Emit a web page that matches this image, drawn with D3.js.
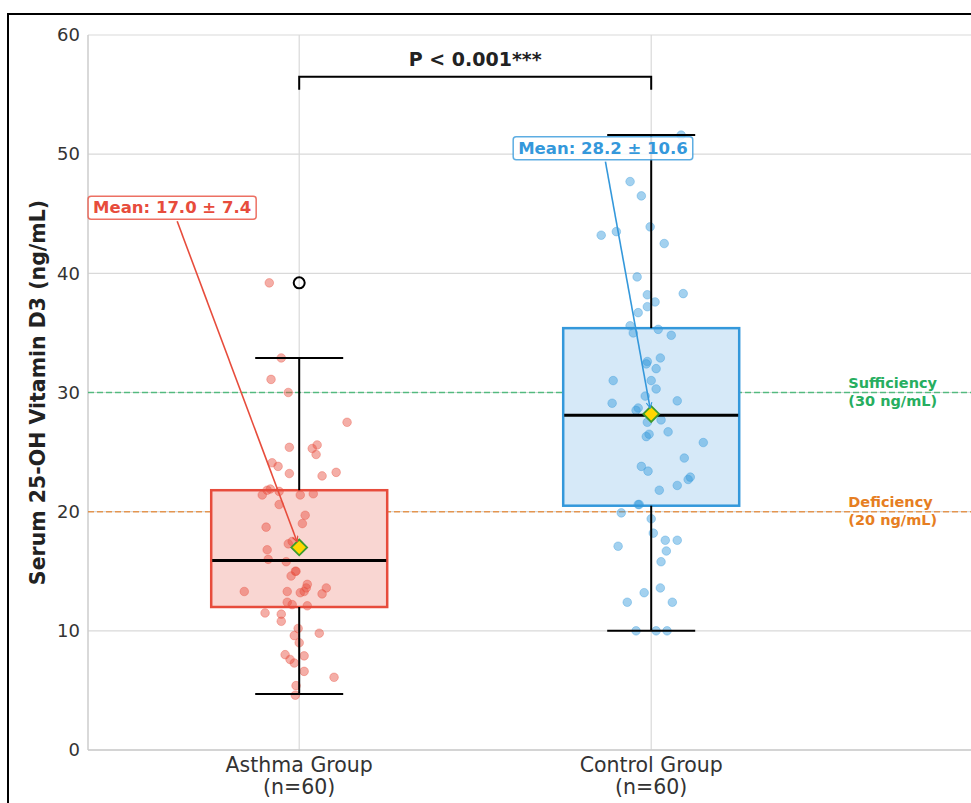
<!DOCTYPE html>
<html>
<head>
<meta charset="utf-8">
<script src="https://cdn.jsdelivr.net/npm/d3@7"></script>
<style>
  body { margin: 0; background: #fff; }
  svg { display: block; font-family: "DejaVu Sans", sans-serif; }
</style>
</head>
<body>
<div id="chart"></div>
<script>

// groups and box statistics
const groups = ["Asthma Group", "Control Group"];
const groupN = [60, 60];
const boxQ1 = [12.0, 20.5];
const boxMedian = [15.9, 28.1];
const boxQ3 = [21.8, 35.4];
const whiskerLow = [4.7, 10.0];
const whiskerHigh = [32.9, 51.6];
const outliers = [[39.2], []];
const means = [17.0, 28.2];
const sds = [7.4, 10.6];

// jittered observations (value, horizontal jitter in category units)
const asthmaValues = [39.2,32.9,31.1,30.0,27.5,25.4,25.3,25.6,24.8,24.1,23.8,23.2,23.0,23.3,21.4,21.8,21.9,21.7,21.4,21.5,
  20.6,19.7,19.0,18.7,17.3,17.5,17.0,16.8,16.0,15.8,15.0,15.0,14.6,13.9,13.6,13.6,13.3,13.2,13.3,13.3,
  13.1,12.4,12.2,12.1,11.5,11.4,10.8,10.2,9.8,9.6,9.0,8.0,7.9,7.6,7.3,6.6,6.1,5.4,4.6];
const asthmaJitter = [-0.085,-0.051,-0.080,-0.031,0.136,-0.028,0.037,0.051,0.048,-0.077,-0.060,-0.028,0.065,0.105,-0.105,-0.091,-0.082,-0.057,0.003,0.040,
  -0.057,0.017,0.009,-0.094,-0.031,-0.020,0.003,-0.091,-0.088,-0.037,-0.011,-0.009,-0.023,0.023,0.020,0.077,0.014,0.003,-0.156,-0.034,
  0.065,-0.034,-0.020,0.023,-0.097,-0.051,-0.051,-0.003,0.057,-0.014,0.000,-0.040,0.014,-0.026,-0.014,0.014,0.099,-0.009,-0.011];
const controlValues = [51.6,47.7,46.5,43.9,43.2,43.5,42.5,39.7,38.3,38.2,37.6,37.2,36.7,35.6,35.0,35.3,34.8,32.6,32.4,32.9,
  32.0,31.0,31.0,30.3,29.1,29.7,29.3,28.7,28.5,27.5,27.7,26.5,26.3,26.7,25.8,24.5,23.8,23.4,22.9,22.7,
  22.2,21.8,20.6,20.6,19.9,19.4,18.2,17.6,17.6,17.1,16.7,15.8,13.6,13.2,12.4,12.4,10.0,10.0,10.0];
const controlJitter = [0.085,-0.060,-0.028,-0.003,-0.142,-0.099,0.037,-0.040,0.091,-0.011,0.011,-0.011,-0.037,-0.060,-0.051,0.020,0.057,-0.011,-0.014,0.026,
  0.014,-0.108,0.000,0.014,-0.111,-0.017,0.074,-0.037,-0.043,-0.011,0.028,-0.006,-0.014,0.048,0.148,0.094,-0.028,-0.009,0.111,0.105,
  0.074,0.023,-0.034,-0.037,-0.085,0.000,0.006,0.040,0.074,-0.094,0.043,0.028,0.026,-0.020,-0.068,0.060,-0.043,0.014,0.045];

// reference thresholds
const refValues = [30, 20];
const refNames = ["Sufficiency", "Deficiency"];
const yTicks = [0, 10, 20, 30, 40, 50, 60];
const pLabel = "P < 0.001***";

const edgeColors = ["#e74c3c", "#3498db"];
const fillColors = ["#f9d6d2", "#d6e9f8"];
const refColors = ["#27ae60", "#e67e22"];

const width = 971, height = 803;
const margin = {top: 35, left: 88, bottom: 53};

const svg = d3.select("#chart").append("svg")
  .attr("width", width)
  .attr("height", height);

const x = d3.scaleLinear()
  .domain([0.4, 3.0])
  .range([margin.left, margin.left + 2.6 * 352]);

const y = d3.scaleLinear()
  .domain([0, 60])
  .range([height - margin.bottom, margin.top]);

const plotRight = x.range()[1];

// frame around the figure
svg.append("rect")
  .attr("x", 8).attr("y", 14)
  .attr("width", 1200).attr("height", 1200)
  .attr("fill", "none")
  .attr("stroke", "#000")
  .attr("stroke-width", 2);

// grid
svg.append("g").selectAll("line.hgrid")
  .data(yTicks)
  .enter().append("line")
  .attr("class", "hgrid")
  .attr("x1", margin.left).attr("x2", plotRight)
  .attr("y1", d => y(d)).attr("y2", d => y(d))
  .attr("stroke", "#d9d9d9").attr("stroke-width", 1.2);

svg.append("g").selectAll("line.vgrid")
  .data(groups)
  .enter().append("line")
  .attr("class", "vgrid")
  .attr("x1", (d, i) => x(i + 1)).attr("x2", (d, i) => x(i + 1))
  .attr("y1", y(0)).attr("y2", y(60))
  .attr("stroke", "#d9d9d9").attr("stroke-width", 1.2);

// spines
svg.append("line")
  .attr("x1", margin.left).attr("x2", margin.left)
  .attr("y1", y(0)).attr("y2", y(60))
  .attr("stroke", "#cccccc").attr("stroke-width", 1.5);
svg.append("line")
  .attr("x1", margin.left).attr("x2", plotRight)
  .attr("y1", y(0)).attr("y2", y(0))
  .attr("stroke", "#cccccc").attr("stroke-width", 1.5);

// y axis
const yAxis = d3.axisLeft(y).tickValues(yTicks).tickSize(0).tickPadding(8);
const yAxisGroup = svg.append("g")
  .attr("transform", "translate(" + margin.left + ",0)")
  .call(yAxis);
yAxisGroup.select(".domain").remove();
yAxisGroup.selectAll("text")
  .attr("font-size", 18)
  .attr("font-family", "DejaVu Sans")
  .attr("fill", "#333");

// x axis labels
const xLabels = svg.append("g").selectAll("text.xlab")
  .data(groups)
  .enter().append("text")
  .attr("class", "xlab")
  .attr("text-anchor", "middle")
  .attr("font-size", 20.5)
  .attr("fill", "#333");
xLabels.append("tspan")
  .attr("x", (d, i) => x(i + 1))
  .attr("y", y(0) + 22)
  .text(d => d);
xLabels.append("tspan")
  .attr("x", (d, i) => x(i + 1))
  .attr("y", y(0) + 44)
  .text((d, i) => "(n=" + groupN[i] + ")");

// y axis title
svg.append("text")
  .attr("transform", "translate(45," + y(30) + ") rotate(-90)")
  .attr("text-anchor", "middle")
  .attr("font-size", 20.5)
  .attr("font-weight", "bold")
  .attr("fill", "#222")
  .text("Serum 25-OH Vitamin D3 (ng/mL)");

// reference lines
svg.append("g").selectAll("line.ref")
  .data(refValues)
  .enter().append("line")
  .attr("class", "ref")
  .attr("x1", margin.left).attr("x2", plotRight)
  .attr("y1", d => y(d)).attr("y2", d => y(d))
  .attr("stroke", (d, i) => refColors[i])
  .attr("stroke-opacity", 0.75)
  .attr("stroke-width", 1.5)
  .attr("stroke-dasharray", "6,3");

// two-line threshold labels, one text per line
const refLabels = svg.append("g");
refValues.forEach((d, i) => {
  refLabels.append("text")
    .attr("x", x(2.56))
    .attr("y", y(d) - 5)
    .attr("font-size", 14.5)
    .attr("font-weight", "bold")
    .attr("fill", refColors[i])
    .text(refNames[i]);
  refLabels.append("text")
    .attr("x", x(2.56))
    .attr("y", y(d) + 13)
    .attr("font-size", 14.5)
    .attr("font-weight", "bold")
    .attr("fill", refColors[i])
    .text("(" + d + " ng/mL)");
});

// boxes
const boxW = 0.5, capW = 0.25;
svg.append("g").selectAll("rect.box")
  .data(groups)
  .enter().append("rect")
  .attr("class", "box")
  .attr("x", (d, i) => x(i + 1 - boxW / 2))
  .attr("width", (d, i) => x(i + 1 + boxW / 2) - x(i + 1 - boxW / 2))
  .attr("y", (d, i) => y(boxQ3[i]))
  .attr("height", (d, i) => y(boxQ1[i]) - y(boxQ3[i]))
  .attr("fill", (d, i) => fillColors[i])
  .attr("stroke", (d, i) => edgeColors[i])
  .attr("stroke-width", 2.5);

// jittered points
const pointSets = [
  asthmaValues.map((v, j) => ({g: 0, v: v, j: asthmaJitter[j]})),
  controlValues.map((v, j) => ({g: 1, v: v, j: controlJitter[j]}))
];
svg.append("g").selectAll("circle.pt")
  .data(pointSets[0].concat(pointSets[1]))
  .enter().append("circle")
  .attr("class", "pt")
  .attr("cx", d => x(d.g + 1 + d.j))
  .attr("cy", d => y(d.v))
  .attr("r", 4.3)
  .attr("fill", d => edgeColors[d.g])
  .attr("fill-opacity", 0.45)
  .attr("stroke", d => edgeColors[d.g])
  .attr("stroke-opacity", 0.35)
  .attr("stroke-width", 1);

// whiskers and caps
const wg = svg.append("g").attr("stroke", "#000").attr("stroke-width", 2);
groups.forEach((g, i) => {
  wg.append("line")
    .attr("x1", x(i + 1)).attr("x2", x(i + 1))
    .attr("y1", y(boxQ3[i])).attr("y2", y(whiskerHigh[i]));
  wg.append("line")
    .attr("x1", x(i + 1)).attr("x2", x(i + 1))
    .attr("y1", y(boxQ1[i])).attr("y2", y(whiskerLow[i]));
  [whiskerLow[i], whiskerHigh[i]].forEach(w => {
    wg.append("line")
      .attr("x1", x(i + 1 - capW / 2)).attr("x2", x(i + 1 + capW / 2))
      .attr("y1", y(w)).attr("y2", y(w));
  });
  wg.append("line")
    .attr("x1", x(i + 1 - boxW / 2) + 1).attr("x2", x(i + 1 + boxW / 2) - 1)
    .attr("y1", y(boxMedian[i])).attr("y2", y(boxMedian[i]))
    .attr("stroke-width", 3);
  outliers[i].forEach(o => {
    svg.append("circle")
      .attr("cx", x(i + 1)).attr("cy", y(o))
      .attr("r", 5.5)
      .attr("fill", "none")
      .attr("stroke", "#000")
      .attr("stroke-width", 2);
  });
});

// mean diamonds
svg.append("g").selectAll("path.mean")
  .data(means)
  .enter().append("path")
  .attr("class", "mean")
  .attr("transform", (d, i) => "translate(" + x(i + 1) + "," + y(d) + ")")
  .attr("d", d3.symbol().type(d3.symbolDiamond2).size(160))
  .attr("fill", "#ffd700")
  .attr("stroke", "#3c9a2e")
  .attr("stroke-width", 1.8);

// mean annotations
const defs = svg.append("defs");
edgeColors.forEach((c, i) => {
  defs.append("marker")
    .attr("id", "arrow" + i)
    .attr("viewBox", "0 0 10 10")
    .attr("refX", 9).attr("refY", 5)
    .attr("markerWidth", 7).attr("markerHeight", 7)
    .attr("markerUnits", "userSpaceOnUse")
    .attr("orient", "auto")
    .append("path")
    .attr("d", "M1,1 L9,5 L1,9")
    .attr("fill", "none")
    .attr("stroke", c)
    .attr("stroke-width", 1.6);
});

const notePos = [[0.639, 45.5], [1.863, 50.5]];
groups.forEach((g, i) => {
  const tx = x(notePos[i][0]), ty = y(notePos[i][1]);
  const note = svg.append("g");
  const label = note.append("text")
    .attr("x", tx).attr("y", ty)
    .attr("text-anchor", "middle")
    .attr("dominant-baseline", "central")
    .attr("font-size", 16.5)
    .attr("font-weight", "bold")
    .attr("fill", edgeColors[i])
    .text("Mean: " + means[i].toFixed(1) + " \u00b1 " + sds[i].toFixed(1));
  const tw = label.node().getComputedTextLength();
  const bw = tw + 10, bh = 23;
  note.insert("rect", "text")
    .attr("x", tx - bw / 2).attr("y", ty - bh / 2)
    .attr("width", bw).attr("height", bh)
    .attr("rx", 3)
    .attr("fill", "#fff").attr("fill-opacity", 0.85)
    .attr("stroke", edgeColors[i]).attr("stroke-opacity", 0.8)
    .attr("stroke-width", 1.5);

  // arrow from box edge to the mean marker
  const mx = x(i + 1), my = y(means[i]);
  const dx = mx - tx, dy = my - ty;
  const t0 = (bh / 2 + 2) / dy;
  const len = Math.sqrt(dx * dx + dy * dy);
  const shrink = 6 / len;
  svg.append("line")
    .attr("x1", tx + dx * t0).attr("y1", ty + dy * t0)
    .attr("x2", mx - dx * shrink).attr("y2", my - dy * shrink)
    .attr("stroke", edgeColors[i])
    .attr("stroke-width", 1.6)
    .attr("marker-end", "url(#arrow" + i + ")");
});

// significance bracket
const bracketY = 56.5, bracketDrop = 1.1;
svg.append("path")
  .attr("d", "M" + x(1) + "," + y(bracketY - bracketDrop) +
    "L" + x(1) + "," + y(bracketY) +
    "L" + x(2) + "," + y(bracketY) +
    "L" + x(2) + "," + y(bracketY - bracketDrop))
  .attr("fill", "none")
  .attr("stroke", "#000")
  .attr("stroke-width", 2);
svg.append("text")
  .attr("x", (x(1) + x(2)) / 2)
  .attr("y", y(bracketY) - 11)
  .attr("text-anchor", "middle")
  .attr("font-size", 19)
  .attr("font-weight", "bold")
  .attr("fill", "#222")
  .text(pLabel);

</script>
</body>
</html>
